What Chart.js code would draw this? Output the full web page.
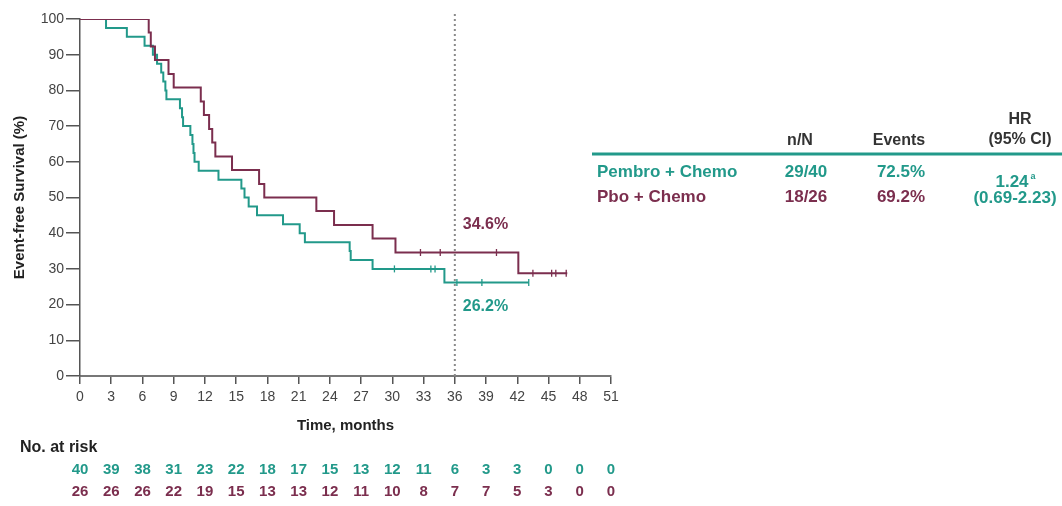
<!DOCTYPE html>
<html>
<head>
<meta charset="utf-8">
<script src="https://cdn.jsdelivr.net/npm/chart.js@4.4.1/dist/chart.umd.min.js"></script>
<style>
  html, body { margin: 0; padding: 0; background: #fff; }
  #wrap { position: relative; width: 1062px; height: 506px; }
</style>
</head>
<body>
<div id="wrap"><canvas id="km"></canvas></div>
<script>
// Kaplan-Meier steps (months, % event-free)
const pembroTimes = [0, 2.5, 4.5, 6.2, 7.0, 7.4, 7.8, 8.0, 8.2, 8.3, 9.6, 9.8, 9.9, 10.6, 10.8, 10.9, 11.0, 11.4, 13.3, 15.5, 15.8, 16.2, 17.0, 19.5, 21.1, 21.6, 25.9, 26.0, 28.1, 35.0, 43.1];
const pembroSurv  = [100, 97.5, 95, 92.5, 90, 87.5, 85, 82.5, 80, 77.5, 75, 72.5, 70, 67.5, 65, 62.5, 60, 57.5, 55, 52.5, 50, 47.5, 45, 42.5, 40, 37.5, 35, 32.5, 30, 26.2, 26.2];
const pboTimes = [0, 6.6, 6.8, 7.2, 8.5, 9.0, 11.6, 11.9, 12.4, 12.7, 13.0, 14.6, 17.2, 17.7, 22.7, 24.4, 28.1, 30.3, 42.1, 46.8];
const pboSurv  = [100, 96.2, 92.3, 88.5, 84.6, 80.8, 76.9, 73.1, 69.2, 65.4, 61.5, 57.7, 53.8, 50, 46.2, 42.3, 38.5, 34.6, 28.8, 28.8];

// censored observations
const pembroCensorT = [30.2, 33.7, 34.1, 36.2, 38.6, 43.1];
const pembroCensorS = [30, 30, 30, 26.2, 26.2, 26.2];
const pboCensorT = [32.7, 34.6, 40.0, 43.5, 45.3, 45.7, 46.7];
const pboCensorS = [34.6, 34.6, 34.6, 28.8, 28.8, 28.8, 28.8];

// number at risk table
const riskTimes  = [0, 3, 6, 9, 12, 15, 18, 21, 24, 27, 30, 33, 36, 39, 42, 45, 48, 51];
const pembroRisk = [40, 39, 38, 31, 23, 22, 18, 17, 15, 13, 12, 11, 6, 3, 3, 0, 0, 0];
const pboRisk    = [26, 26, 26, 22, 19, 15, 13, 13, 12, 11, 10, 8, 7, 7, 5, 3, 0, 0];

const landmark = 36;
const pembroAt36 = '26.2%';
const pboAt36 = '34.6%';

const TEAL = '#22998a';
const MAROON = '#7b2e4e';
const DARK = '#333';
const FONT = "'Liberation Sans', Arial, sans-serif";

const pts = (ts, ss) => ts.map((t, i) => ({ x: t, y: ss[i] }));

// text that lives outside the axes: risk table, 36-month labels, summary table
const extraText = {
  id: 'extraText',
  afterDraw(chart) {
    const ctx = chart.ctx;
    const xs = chart.scales.x;
    const ys = chart.scales.y;
    ctx.save();
    ctx.textBaseline = 'middle';

    // 36-month labels
    ctx.font = 'bold 16px ' + FONT;
    ctx.textAlign = 'left';
    const lx = xs.getPixelForValue(landmark) + 8;
    ctx.fillStyle = MAROON;
    ctx.fillText(pboAt36, lx, ys.getPixelForValue(42.5));
    ctx.fillStyle = TEAL;
    ctx.fillText(pembroAt36, lx, ys.getPixelForValue(19.5));

    // no. at risk
    ctx.fillStyle = '#222';
    ctx.font = 'bold 16px ' + FONT;
    ctx.fillText('No. at risk', 20, 448);
    ctx.textAlign = 'center';
    ctx.font = 'bold 15px ' + FONT;
    riskTimes.forEach((t, i) => {
      const px = xs.getPixelForValue(t);
      ctx.fillStyle = TEAL;
      ctx.fillText(String(pembroRisk[i]), px, 470);
      ctx.fillStyle = MAROON;
      ctx.fillText(String(pboRisk[i]), px, 492);
    });

    // summary table
    ctx.fillStyle = DARK;
    ctx.font = 'bold 16px ' + FONT;
    ctx.fillText('n/N', 800, 141);
    ctx.fillText('Events', 899, 141);
    ctx.fillText('HR', 1020, 120);
    ctx.fillText('(95% CI)', 1020, 140);

    ctx.strokeStyle = TEAL;
    ctx.lineWidth = 3;
    ctx.beginPath();
    ctx.moveTo(592, 154);
    ctx.lineTo(1062, 154);
    ctx.stroke();

    ctx.font = 'bold 17px ' + FONT;
    ctx.textAlign = 'left';
    ctx.fillStyle = TEAL;
    ctx.fillText('Pembro + Chemo', 597, 172);
    ctx.fillStyle = MAROON;
    ctx.fillText('Pbo + Chemo', 597, 197);

    ctx.textAlign = 'center';
    ctx.fillStyle = TEAL;
    ctx.fillText('29/40', 806, 172);
    ctx.fillText('72.5%', 901, 172);
    ctx.fillText('1.24', 1012, 182);
    ctx.font = 'bold 9px ' + FONT;
    ctx.fillText('a', 1033, 177);
    ctx.font = 'bold 17px ' + FONT;
    ctx.fillText('(0.69-2.23)', 1015, 198);
    ctx.fillStyle = MAROON;
    ctx.fillText('18/26', 806, 197);
    ctx.fillText('69.2%', 901, 197);

    ctx.restore();
  }
};

const stepLine = (label, data, color) => ({
  label, data, borderColor: color, backgroundColor: color,
  borderWidth: 2, pointRadius: 0, stepped: 'before', fill: false
});
const censor = (label, data, color) => ({
  label, data, type: 'scatter', showLine: false,
  pointStyle: 'line', rotation: 90, pointRadius: 3.5,
  borderColor: color, borderWidth: 1.3
});

new Chart(document.getElementById('km'), {
  type: 'line',
  data: {
    datasets: [
      stepLine('Pbo + Chemo', pts(pboTimes, pboSurv), MAROON),
      stepLine('Pembro + Chemo', pts(pembroTimes, pembroSurv), TEAL),
      censor('Pbo censored', pts(pboCensorT, pboCensorS), MAROON),
      censor('Pembro censored', pts(pembroCensorT, pembroCensorS), TEAL),
      {
        label: '36 months',
        data: [{ x: landmark, y: 0 }, { x: landmark, y: 102 }],
        borderColor: '#8a8a8a', borderWidth: 2, borderDash: [2, 3],
        pointRadius: 0, clip: false
      }
    ]
  },
  options: {
    responsive: true,
    maintainAspectRatio: false,
    animation: false,
    layout: { padding: { top: 19, right: 451, left: 0, bottom: 0 } },
    plugins: { legend: { display: false }, tooltip: { enabled: false } },
    scales: {
      x: {
        type: 'linear', min: 0, max: 51,
        afterFit: s => { s.height = 130; },
        border: { display: true, color: '#777', width: 2 },
        grid: { drawOnChartArea: false, tickLength: 8, color: '#555', lineWidth: 1.5 },
        ticks: { stepSize: 3, padding: 5, color: '#444', font: { family: FONT, size: 14 } },
        title: { display: true, text: 'Time, months', color: '#222',
                 font: { family: FONT, size: 15, weight: 'bold' }, padding: { top: 0, bottom: 71 } }
      },
      y: {
        min: 0, max: 100,
        afterFit: s => { s.width = 80; },
        border: { display: true, color: '#555', width: 1.5 },
        grid: { drawOnChartArea: false, tickLength: 14, color: '#555', lineWidth: 1.5 },
        ticks: { stepSize: 10, padding: 2, color: '#444', font: { family: FONT, size: 14 } },
        title: { display: true, text: 'Event-free Survival (%)', color: '#222',
                 font: { family: FONT, size: 15, weight: 'bold' }, padding: { top: 11, bottom: 0 } }
      }
    }
  },
  plugins: [extraText]
});
</script>
</body>
</html>
